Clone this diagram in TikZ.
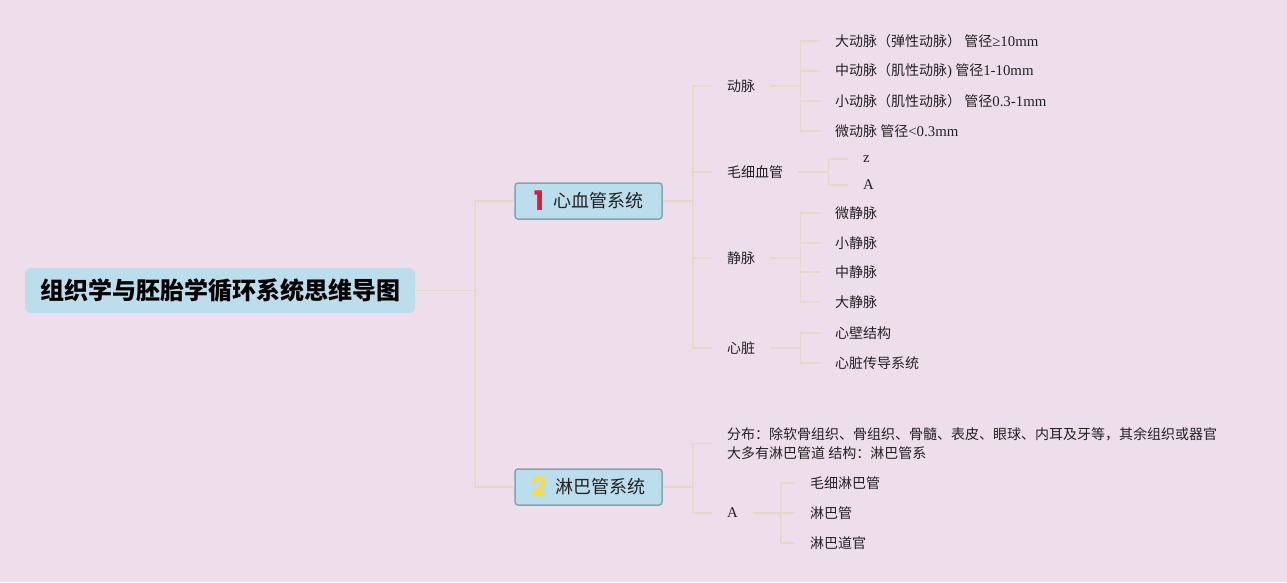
\documentclass[tikz,border=0pt]{standalone}
\usepackage{fontspec}
\setmainfont{Noto Sans CJK SC}
\newfontfamily\enfont{Liberation Serif}[Scale=1.06]
\newfontfamily\numfont{Poppins}
\usepackage{tikz}
\usetikzlibrary{positioning}
\definecolor{bgpink}{RGB}{238,222,236}
\definecolor{boxblue}{RGB}{187,221,236}
\definecolor{boxedge}{RGB}{128,168,172}
\definecolor{linkbeige}{RGB}{232,216,198}
\definecolor{numred}{RGB}{214,30,62}
\definecolor{numyellow}{RGB}{246,220,70}
\definecolor{textgray}{RGB}{34,34,34}
\newcommand{\sysnum}[2]{\raisebox{-3pt}{\numfont\bfseries\fontsize{27}{27}\selectfont\color{#1}#2}\hspace{9pt}}

\begin{document}
\begin{tikzpicture}[x=1pt, y=-1pt,
    rootbox/.style={rectangle, rounded corners=6pt, fill=boxblue, minimum width=390pt,
                    minimum height=45pt, text=black, font=\bfseries\fontsize{24}{28}\selectfont},
    sysbox/.style={rectangle, rounded corners=3pt, draw=boxedge, line width=1.5pt, fill=boxblue,
                   minimum width=147pt, minimum height=36pt, text=textgray,
                   text height=14pt, text depth=0.4pt, font=\fontsize{18}{22}\selectfont},
    leaf/.style={anchor=west, inner xsep=15pt, inner ysep=3pt, text=textgray,
                 font=\fontsize{14}{17}\selectfont},
    link/.style={draw=linkbeige, line width=1.5pt}]

\fill[bgpink] (0,0) rectangle (1287,582);

% root and systems
\node[rootbox] (root) at (220,290.5) {组织学与胚胎学循环系统思维导图};
\node[sysbox] (cardio) at (588.5,201) {\sysnum{numred}{1}心血管系统};
\node[sysbox] (lymph) at (588.5,487) {\sysnum{numyellow}{2}淋巴管系统};

% cardiovascular branch
\node[leaf] (artery) at (712,86) {动脉};
\node[leaf] (capil) at (712,172) {毛细血管};
\node[leaf] (vein) at (712,258) {静脉};
\node[leaf] (heart) at (712,348) {心脏};

\node[leaf] (art1) at (820,41) {大动脉（弹性动脉） 管径{\enfont ≥10mm}};
\node[leaf] (art2) at (820,71) {中动脉（肌性动脉{\enfont )} 管径{\enfont 1-10mm}};
\node[leaf] (art3) at (820,101) {小动脉（肌性动脉） 管径{\enfont 0.3-1mm}};
\node[leaf] (art4) at (820,131) {微动脉 管径{\enfont <0.3mm}};

\node[leaf] (cap1) at (848,159) {\enfont z};
\node[leaf] (cap2) at (848,185) {\enfont A};

\node[leaf] (vein1) at (820,213) {微静脉};
\node[leaf] (vein2) at (820,243) {小静脉};
\node[leaf] (vein3) at (820,272) {中静脉};
\node[leaf] (vein4) at (820,302) {大静脉};

\node[leaf] (heart1) at (820,333) {心壁结构};
\node[leaf] (heart2) at (820,363) {心脏传导系统};

% lymphatic branch
\node[leaf, align=left, font=\fontsize{14}{19}\selectfont] (distrib) at (712,443.5)
    {分布：除软骨组织、骨组织、骨髓、表皮、眼球、内耳及牙等，其余组织或器官\\大多有淋巴管道 结构：淋巴管系};
\node[leaf] (lymA) at (712,513) {\enfont A};

\node[leaf] (lym1) at (795,483) {毛细淋巴管};
\node[leaf] (lym2) at (795,513) {淋巴管};
\node[leaf] (lym3) at (795,543) {淋巴道官};

% connectors
\foreach \c in {cardio,lymph}
    \draw[link] (root.east) -- ++(60,0) |- (\c.west);
\foreach \c in {artery,capil,vein,heart}
    \draw[link] (cardio.east) -- ++(30,0) |- (\c.west);
\foreach \c in {distrib,lymA}
    \draw[link] (lymph.east) -- ++(30,0) |- (\c.west);
\foreach \c in {art1,art2,art3,art4}
    \draw[link] (artery.east) -- ++(30,0) |- (\c.west);
\foreach \c in {cap1,cap2}
    \draw[link] (capil.east) -- ++(30,0) |- (\c.west);
\foreach \c in {vein1,vein2,vein3,vein4}
    \draw[link] (vein.east) -- ++(30,0) |- (\c.west);
\foreach \c in {heart1,heart2}
    \draw[link] (heart.east) -- ++(30,0) |- (\c.west);
\foreach \c in {lym1,lym2,lym3}
    \draw[link] (lymA.east) -- ++(28,0) |- (\c.west);
\end{tikzpicture}
\end{document}
